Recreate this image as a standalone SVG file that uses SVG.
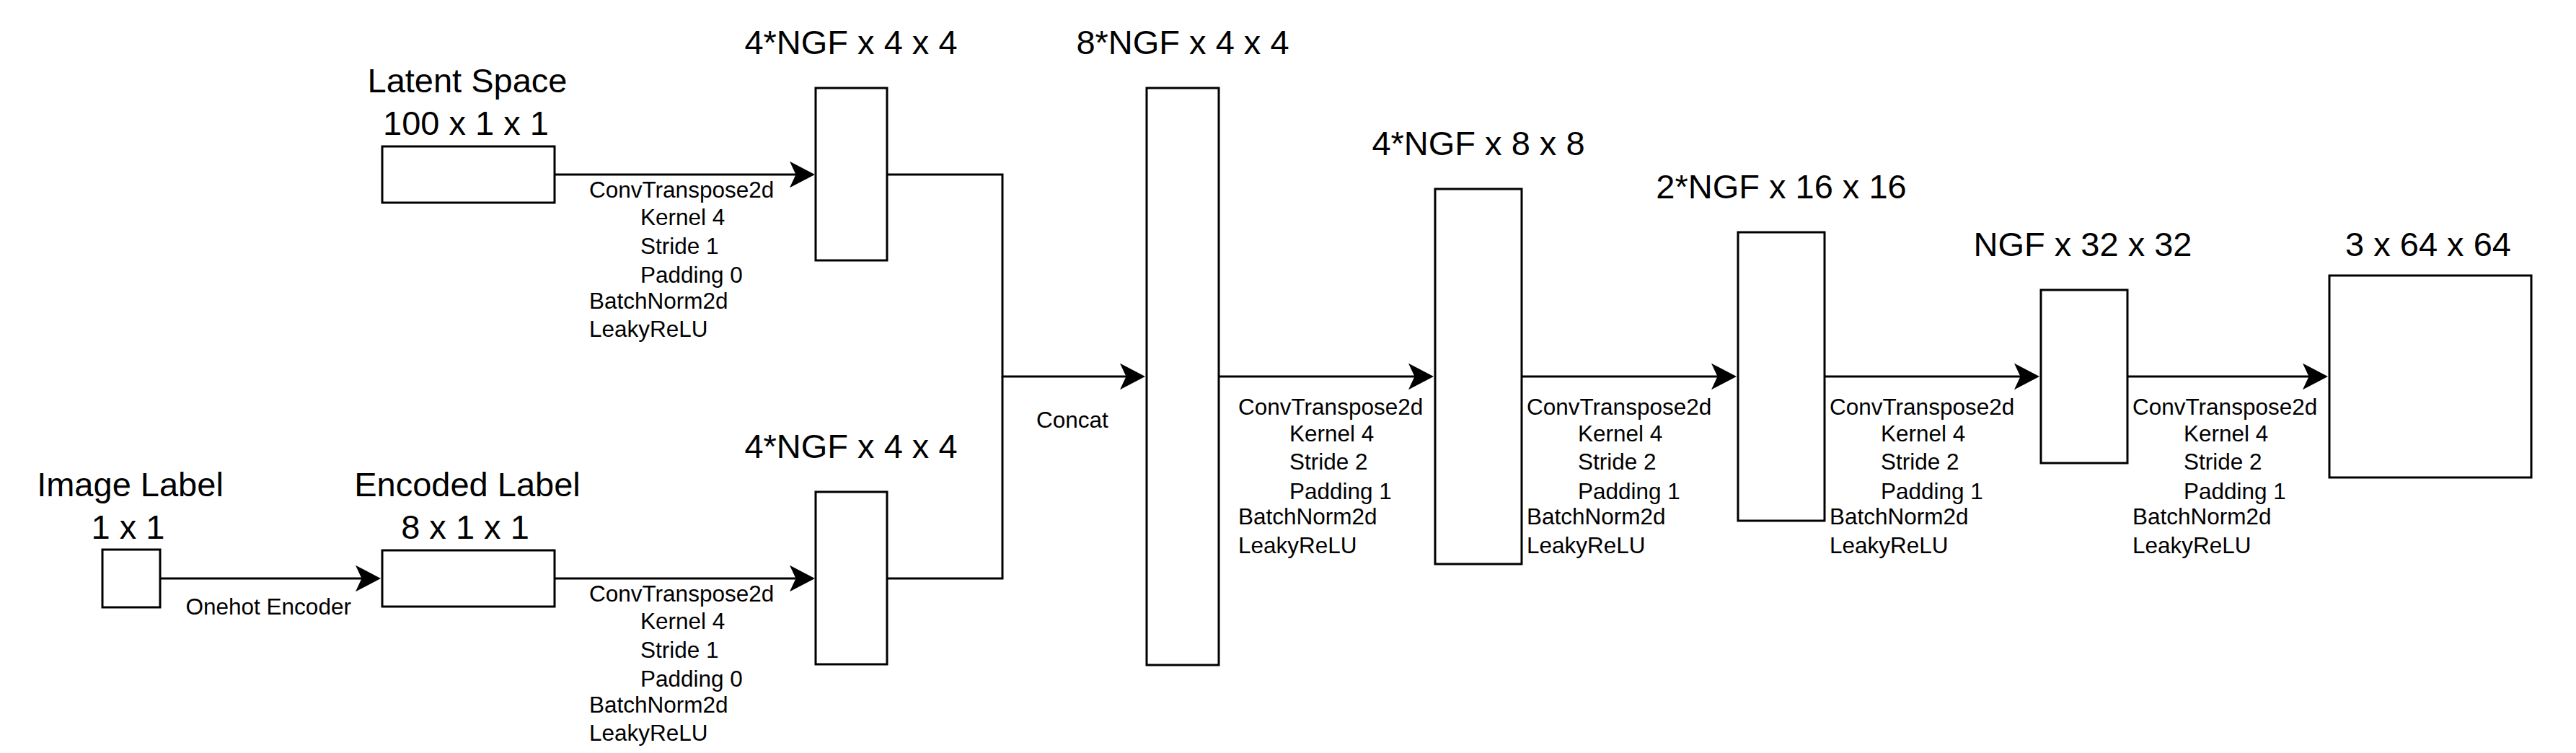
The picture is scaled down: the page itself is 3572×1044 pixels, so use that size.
<svg xmlns="http://www.w3.org/2000/svg" width="3572" height="1044" viewBox="0 0 3572 1044">
  <style>
    .box { fill: #ffffff; stroke: #000000; stroke-width: 3; }
    .edge { fill: none; stroke: #000000; stroke-width: 3; }
    .h { font-family: "Liberation Sans", Arial, Helvetica, sans-serif; font-size: 47px; fill: #000000; text-anchor: middle; }
    .s { font-family: "Liberation Sans", Arial, Helvetica, sans-serif; font-size: 31.5px; fill: #000000; }
  </style>
  <defs>
    <marker id="arrow" viewBox="-36 -20 37 40" refX="-20" refY="0" markerWidth="37" markerHeight="40" markerUnits="userSpaceOnUse" orient="auto">
      <path d="M0,0 L-35,-18.3 L-26.5,0 L-35,18.3 Z" fill="#000000"/>
    </marker>
  </defs>
  <rect width="3572" height="1044" fill="#ffffff"/>

  <g id="connectors">
    <path class="edge" d="M222,802 H508" marker-end="url(#arrow)"/>
    <path class="edge" d="M770,242 H1110" marker-end="url(#arrow)"/>
    <path class="edge" d="M770,802 H1110" marker-end="url(#arrow)"/>
    <path class="edge" d="M1230,242 H1390 V522 H1568" marker-end="url(#arrow)"/>
    <path class="edge" d="M1230,802 H1390 V522"/>
    <path class="edge" d="M1690,522 H1968" marker-end="url(#arrow)"/>
    <path class="edge" d="M2110,522 H2388" marker-end="url(#arrow)"/>
    <path class="edge" d="M2530,522 H2808" marker-end="url(#arrow)"/>
    <path class="edge" d="M2950,522 H3208" marker-end="url(#arrow)"/>
    <text class="s" x="257.5" y="851.5">Onehot Encoder</text>
    <text class="s" x="1437" y="592.5">Concat</text>
    <text class="s">
      <tspan x="817" y="273.5">ConvTranspose2d</tspan>
      <tspan x="888" y="312">Kernel 4</tspan>
      <tspan x="888" y="351.5">Stride 1</tspan>
      <tspan x="888" y="391.5">Padding 0</tspan>
      <tspan x="817" y="428">BatchNorm2d</tspan>
      <tspan x="817" y="466.5">LeakyReLU</tspan>
    </text>
    <text class="s">
      <tspan x="817" y="833.5">ConvTranspose2d</tspan>
      <tspan x="888" y="872">Kernel 4</tspan>
      <tspan x="888" y="911.5">Stride 1</tspan>
      <tspan x="888" y="951.5">Padding 0</tspan>
      <tspan x="817" y="988">BatchNorm2d</tspan>
      <tspan x="817" y="1026.5">LeakyReLU</tspan>
    </text>
    <text class="s">
      <tspan x="1717" y="575">ConvTranspose2d</tspan>
      <tspan x="1788" y="611.7">Kernel 4</tspan>
      <tspan x="1788" y="651.2">Stride 2</tspan>
      <tspan x="1788" y="691.7">Padding 1</tspan>
      <tspan x="1717" y="727.2">BatchNorm2d</tspan>
      <tspan x="1717" y="766.7">LeakyReLU</tspan>
    </text>
    <text class="s">
      <tspan x="2117" y="575">ConvTranspose2d</tspan>
      <tspan x="2188" y="611.7">Kernel 4</tspan>
      <tspan x="2188" y="651.2">Stride 2</tspan>
      <tspan x="2188" y="691.7">Padding 1</tspan>
      <tspan x="2117" y="727.2">BatchNorm2d</tspan>
      <tspan x="2117" y="766.7">LeakyReLU</tspan>
    </text>
    <text class="s">
      <tspan x="2537" y="575">ConvTranspose2d</tspan>
      <tspan x="2608" y="611.7">Kernel 4</tspan>
      <tspan x="2608" y="651.2">Stride 2</tspan>
      <tspan x="2608" y="691.7">Padding 1</tspan>
      <tspan x="2537" y="727.2">BatchNorm2d</tspan>
      <tspan x="2537" y="766.7">LeakyReLU</tspan>
    </text>
    <text class="s">
      <tspan x="2957" y="575">ConvTranspose2d</tspan>
      <tspan x="3028" y="611.7">Kernel 4</tspan>
      <tspan x="3028" y="651.2">Stride 2</tspan>
      <tspan x="3028" y="691.7">Padding 1</tspan>
      <tspan x="2957" y="727.2">BatchNorm2d</tspan>
      <tspan x="2957" y="766.7">LeakyReLU</tspan>
    </text>
  </g>

  <g id="image-label">
    <text class="h" x="180.5" y="688">Image Label</text>
    <text class="h" x="177.5" y="747">1 x 1</text>
    <rect class="box" x="142" y="762" width="80" height="80"/>
  </g>

  <g id="latent-space">
    <text class="h" x="648" y="128">Latent Space</text>
    <text class="h" x="646" y="187">100 x 1 x 1</text>
    <rect class="box" x="530" y="203" width="239" height="78"/>
  </g>

  <g id="encoded-label">
    <text class="h" x="648" y="687.5">Encoded Label</text>
    <text class="h" x="645" y="747">8 x 1 x 1</text>
    <rect class="box" x="530" y="763" width="239" height="78"/>
  </g>

  <g id="latent-conv">
    <text class="h" x="1180" y="75">4*NGF x 4 x 4</text>
    <rect class="box" x="1131" y="122" width="99" height="239"/>
  </g>

  <g id="label-conv">
    <text class="h" x="1180" y="635">4*NGF x 4 x 4</text>
    <rect class="box" x="1131" y="682" width="99" height="239"/>
  </g>

  <g id="concat">
    <text class="h" x="1640" y="75">8*NGF x 4 x 4</text>
    <rect class="box" x="1590" y="122" width="100" height="800"/>
  </g>

  <g id="layer-8x8">
    <text class="h" x="2050" y="215">4*NGF x 8 x 8</text>
    <rect class="box" x="1990" y="262" width="120" height="520"/>
  </g>

  <g id="layer-16x16">
    <text class="h" x="2470" y="275">2*NGF x 16 x 16</text>
    <rect class="box" x="2410" y="322" width="120" height="400"/>
  </g>

  <g id="layer-32x32">
    <text class="h" x="2888" y="355">NGF x 32 x 32</text>
    <rect class="box" x="2830" y="402" width="120" height="240"/>
  </g>

  <g id="output">
    <text class="h" x="3367" y="355">3 x 64 x 64</text>
    <rect class="box" x="3230" y="382" width="280" height="280"/>
  </g>
</svg>
